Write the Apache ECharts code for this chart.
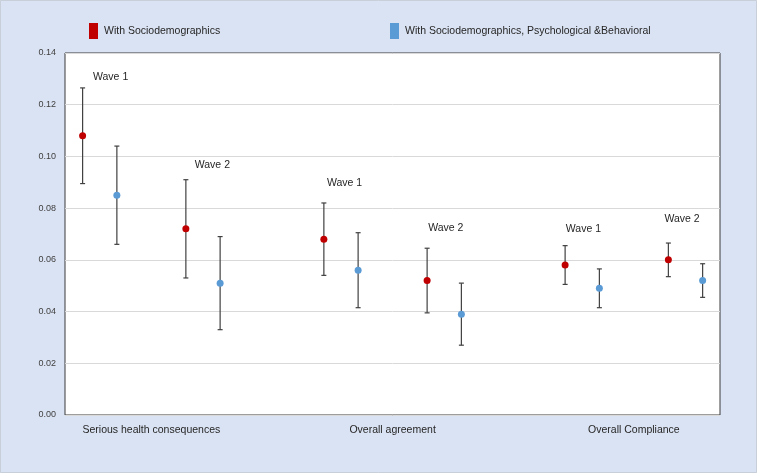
<!DOCTYPE html>
<html>
<head>
<meta charset="utf-8">
<script src="https://cdn.jsdelivr.net/npm/echarts@6/dist/echarts.min.js"></script>
<style>
html,body{margin:0;padding:0;background:#DAE3F3;}
#chart{width:757px;height:473px;}
</style>
</head>
<body>
<div id="chart"></div>
<script>
// ---- data ----
const categories = ['Serious health consequences', 'Overall agreement', 'Overall Compliance'];
const waves = ['Wave 1', 'Wave 2'];
const seriesNames = ['With Sociodemographics', 'With Sociodemographics, Psychological &Behavioral'];
const yTicks = [0, 0.02, 0.04, 0.06, 0.08, 0.10, 0.12, 0.14];

// With Sociodemographics
const socioW1 = [0.108, 0.068, 0.058];
const socioW1Low = [0.0895, 0.054, 0.0505];
const socioW1High = [0.1265, 0.082, 0.0655];
const socioW2 = [0.072, 0.052, 0.060];
const socioW2Low = [0.053, 0.0395, 0.0535];
const socioW2High = [0.091, 0.0645, 0.0665];

// With Sociodemographics, Psychological & Behavioral
const fullW1 = [0.085, 0.056, 0.049];
const fullW1Low = [0.066, 0.0415, 0.0415];
const fullW1High = [0.104, 0.0705, 0.0565];
const fullW2 = [0.051, 0.039, 0.052];
const fullW2Low = [0.033, 0.027, 0.0455];
const fullW2High = [0.069, 0.051, 0.0585];

// ---- layout / style ----
const colors = ['#C00000', '#5B9BD5'];
const slotOffsets = [[-0.285, 0.143], [-0.143, 0.285]]; // [series][wave] within a category
const waveLabelOffsets = [ // px offsets from top of red error bar, [category][wave]
  [[28, -11], [26.5, -15]],
  [[20.7, -19.6], [18.7, -20.4]],
  [[18.3, -17], [13.7, -23.6]]
];
const FONT = '"Liberation Sans", Arial, sans-serif';

const table = [
  [[socioW1, socioW1Low, socioW1High], [socioW2, socioW2Low, socioW2High]],
  [[fullW1, fullW1Low, fullW1High], [fullW2, fullW2Low, fullW2High]]
];

function buildSeries(s) {
  const pts = [], bars = [];
  categories.forEach((c, ci) => {
    waves.forEach((w, wi) => {
      const [v, lo, hi] = table[s][wi];
      const x = ci + slotOffsets[s][wi];
      pts.push([x, v[ci]]);
      bars.push([x, lo[ci], hi[ci]]);
    });
  });
  return { pts, bars };
}

const s0 = buildSeries(0), s1 = buildSeries(1);
const allBars = s0.bars.concat(s1.bars);

const labelData = [];
categories.forEach((c, ci) => {
  waves.forEach((w, wi) => {
    const hi = table[0][wi][2][ci];
    labelData.push([ci + slotOffsets[0][wi], hi, ci, wi]);
  });
});

const chart = echarts.init(document.getElementById('chart'), null, { renderer: 'canvas' });

const option = {
  backgroundColor: '#DAE3F3',
  animation: false,
  textStyle: { fontFamily: FONT },
  legend: [
    {
      data: [seriesNames[0]], left: 84, top: 18, icon: 'rect',
      itemWidth: 9, itemHeight: 16, itemGap: 6,
      textStyle: { fontSize: 10.5, color: '#262626', fontFamily: FONT, padding: [0, 0, 0, 1] }
    },
    {
      data: [seriesNames[1]], left: 385, top: 18, icon: 'rect',
      itemWidth: 9, itemHeight: 16, itemGap: 6,
      textStyle: { fontSize: 10.5, color: '#262626', fontFamily: FONT, padding: [0, 0, 0, 1] }
    }
  ],
  grid: {
    left: 65, right: 37, top: 53, bottom: 58,
    show: true, backgroundColor: '#ffffff', borderColor: '#3a3a3a', borderWidth: 1
  },
  xAxis: {
    type: 'value', min: -0.358, max: 2.357,
    splitLine: { show: false },
    axisLine: { show: false },
    axisTick: { show: false },
    axisLabel: {
      customValues: [0, 1, 2],
      formatter: v => categories[Math.round(v)] || '',
      fontSize: 10.5, color: '#262626', margin: 10, fontFamily: FONT
    }
  },
  yAxis: {
    type: 'value', min: 0, max: 0.14, interval: 0.02,
    axisLine: { show: false },
    axisTick: { show: false },
    splitLine: { lineStyle: { color: '#d9d9d9', width: 1 } },
    axisLabel: {
      formatter: v => v.toFixed(2),
      fontSize: 9, color: '#404040', margin: 9, fontFamily: FONT
    }
  },
  series: [
    {
      type: 'custom',
      silent: true,
      z: 2,
      data: allBars,
      encode: { x: 0, y: [1, 2] },
      renderItem: function (params, api) {
        const x = api.value(0);
        const lo = api.coord([x, api.value(1)]);
        const hi = api.coord([x, api.value(2)]);
        const cap = 2.5;
        const st = { stroke: '#404040', lineWidth: 1.2 };
        return {
          type: 'group',
          children: [
            { type: 'line', shape: { x1: lo[0], y1: lo[1], x2: hi[0], y2: hi[1] }, style: st },
            { type: 'line', shape: { x1: hi[0] - cap, y1: hi[1], x2: hi[0] + cap, y2: hi[1] }, style: st },
            { type: 'line', shape: { x1: lo[0] - cap, y1: lo[1], x2: lo[0] + cap, y2: lo[1] }, style: st }
          ]
        };
      }
    },
    {
      name: seriesNames[0], type: 'scatter', z: 5,
      symbol: 'circle', symbolSize: 7,
      itemStyle: { color: colors[0], opacity: 1 },
      data: s0.pts
    },
    {
      name: seriesNames[1], type: 'scatter', z: 5,
      symbol: 'circle', symbolSize: 7,
      itemStyle: { color: colors[1], opacity: 1 },
      data: s1.pts
    },
    {
      type: 'custom',
      silent: true,
      z: 6,
      data: labelData,
      encode: { x: 0, y: 1 },
      renderItem: function (params, api) {
        const p = api.coord([api.value(0), api.value(1)]);
        const ci = api.value(2), wi = api.value(3);
        const off = waveLabelOffsets[ci][wi];
        return {
          type: 'text',
          style: {
            x: p[0] + off[0], y: p[1] + off[1],
            text: waves[wi], fill: '#262626',
            font: '10.5px ' + FONT,
            align: 'center', verticalAlign: 'middle'
          }
        };
      }
    }
  ],
  graphic: [{
    type: 'rect', silent: true, z: 100,
    shape: { x: 0.5, y: 0.5, width: 756, height: 472 },
    style: { fill: 'none', stroke: '#c9cfd8', lineWidth: 1 }
  }]
};

chart.setOption(option);
</script>
</body>
</html>
